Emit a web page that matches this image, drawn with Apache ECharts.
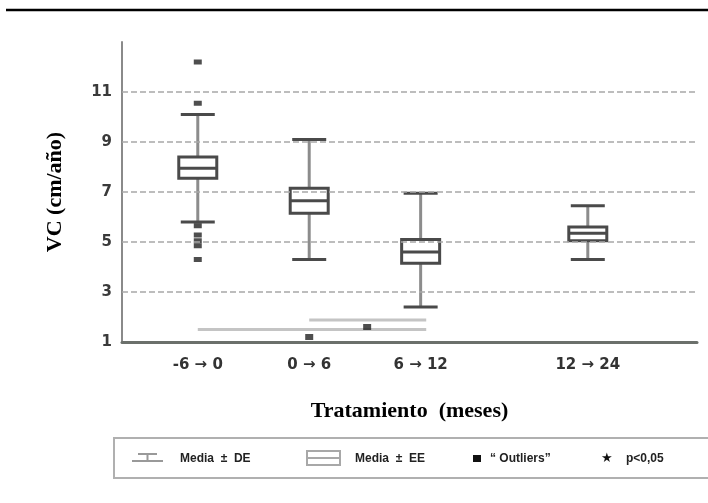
<!DOCTYPE html>
<html><head><meta charset="utf-8">
<script src="https://cdn.jsdelivr.net/npm/echarts@6/dist/echarts.min.js"></script>
<style>html,body{margin:0;padding:0;background:#fff}#c{width:708px;height:503px}</style>
</head><body><div id="c"></div>
<script>
// ---- data ----
const categories = ['-6 \u2192 0', '0 \u2192 6', '6 \u2192 12', '12 \u2192 24'];
const xPositions = [1, 2, 3, 4.5];
const whiskerLow = [5.8, 4.3, 2.4, 4.3];
const q1 = [7.55, 6.15, 4.15, 5.05];
const median = [7.95, 6.65, 4.6, 5.35];
const q3 = [8.4, 7.15, 5.1, 5.6];
const whiskerHigh = [10.1, 9.1, 6.95, 6.45];
const outliers = [[1, 12.2], [1, 10.55], [1, 5.65], [1, 5.28], [1, 5.05], [1, 4.85], [1, 4.3]];
const yTicks = [1, 3, 5, 7, 9, 11];
const gridValues = [3, 5, 7, 9, 11];
const sigLines = [[1, 3.05, 1.5], [2, 3.05, 1.88]];   // [from, to, y]
const sigStars = [[2, 1.2], [2.52, 1.6]];
const legendLabels = ['Media  \u00b1  DE', 'Media  \u00b1  EE', '\u201c Outliers\u201d', 'p<0,05'];

const chart = echarts.init(document.getElementById('c'));
const boxData = xPositions.map((x, i) => [x, whiskerLow[i], q1[i], median[i], q3[i], whiskerHigh[i]]);

const BOX_W = 38, CAP_W = 34;
function renderBox(params, api) {
  const x = api.value(0);
  const pLow = api.coord([x, api.value(1)]);
  const pQ1 = api.coord([x, api.value(2)]);
  const pMed = api.coord([x, api.value(3)]);
  const pQ3 = api.coord([x, api.value(4)]);
  const pHigh = api.coord([x, api.value(5)]);
  const cx = pMed[0];
  const dark = '#4a4a4a', whisk = '#8c8c8c';
  return {
    type: 'group',
    children: [
      { type: 'line', shape: { x1: cx, y1: pHigh[1], x2: cx, y2: pQ3[1] }, style: { stroke: whisk, lineWidth: 3 } },
      { type: 'line', shape: { x1: cx, y1: pQ1[1], x2: cx, y2: pLow[1] }, style: { stroke: whisk, lineWidth: 3 } },
      { type: 'line', shape: { x1: cx - CAP_W / 2, y1: pHigh[1], x2: cx + CAP_W / 2, y2: pHigh[1] }, style: { stroke: dark, lineWidth: 3 } },
      { type: 'line', shape: { x1: cx - CAP_W / 2, y1: pLow[1], x2: cx + CAP_W / 2, y2: pLow[1] }, style: { stroke: dark, lineWidth: 3 } },
      { type: 'rect', shape: { x: cx - BOX_W / 2, y: pQ3[1], width: BOX_W, height: pQ1[1] - pQ3[1] }, style: { fill: '#fff', stroke: dark, lineWidth: 3 } },
      { type: 'line', shape: { x1: cx - BOX_W / 2, y1: pMed[1], x2: cx + BOX_W / 2, y2: pMed[1] }, style: { stroke: dark, lineWidth: 3 } }
    ]
  };
}
function renderSig(params, api) {
  const a = api.coord([api.value(0), api.value(2)]);
  const b = api.coord([api.value(1), api.value(2)]);
  return { type: 'line', shape: { x1: a[0], y1: a[1], x2: b[0], y2: b[1] }, style: { stroke: '#c4c4c4', lineWidth: 3 } };
}

const LY = 459;
const legendFont = 'bold 12px "Liberation Sans", Arial, sans-serif';
const option = {
  animation: false,
  backgroundColor: '#fff',
  grid: { left: 122, right: 11, top: 42, bottom: 161 },
  xAxis: {
    type: 'value', min: 0.32, max: 5.48,
    axisLine: { show: true, lineStyle: { color: '#6b706b', width: 3 } },
    axisTick: { show: false },
    splitLine: { show: false },
    axisLabel: {
      customValues: xPositions,
      formatter: v => { const i = xPositions.indexOf(v); return i >= 0 ? categories[i] : ''; },
      fontFamily: 'DejaVu Sans', fontWeight: 'bold', fontSize: 15, color: '#333', margin: 16
    },
    name: 'Tratamiento  (meses)', nameLocation: 'middle', nameGap: 58,
    nameTextStyle: { fontFamily: 'Liberation Serif', fontWeight: 'bold', fontSize: 22, color: '#000' }
  },
  yAxis: {
    type: 'value', min: 1, max: 13, interval: 2,
    axisLine: { show: true, lineStyle: { color: '#8a8a8a', width: 2 } },
    axisTick: { show: false },
    splitLine: { show: false },
    axisLabel: {
      formatter: v => yTicks.indexOf(v) >= 0 ? String(v) : '',
      fontFamily: 'DejaVu Sans', fontWeight: 'bold', fontSize: 15, color: '#3a3a3a', margin: 10
    },
    name: 'VC (cm/a\u00f1o)', nameLocation: 'middle', nameGap: 56, nameRotate: 90,
    nameTextStyle: { fontFamily: 'Liberation Serif', fontWeight: 'bold', fontSize: 22, color: '#000' }
  },
  series: [
    {
      type: 'custom', name: 'sig', renderItem: renderSig, data: sigLines, z: 1,
      markLine: {
        silent: true, symbol: 'none', label: { show: false },
        lineStyle: { type: [6, 3], color: '#a8a8a8', width: 1.5 },
        data: gridValues.map(v => ({ yAxis: v }))
      }
    },
    { type: 'custom', name: 'box', renderItem: renderBox, data: boxData, z: 3 },
    { type: 'scatter', name: 'outliers', data: outliers, symbol: 'rect', symbolSize: [8, 5], itemStyle: { color: '#222' }, z: 4 },
    { type: 'scatter', name: 'stars', data: sigStars, symbol: 'rect', symbolSize: [8, 6], itemStyle: { color: '#222' }, z: 4 }
  ],
  graphic: [
    { type: 'line', shape: { x1: 6, y1: 10, x2: 708, y2: 10 }, style: { stroke: '#000', lineWidth: 2.5 } },
    { type: 'rect', shape: { x: 114, y: 438, width: 600, height: 40 }, style: { fill: '#fff', stroke: '#b0b0b0', lineWidth: 2 } },
    // whisker icon
    { type: 'line', shape: { x1: 138, y1: 454, x2: 157, y2: 454 }, style: { stroke: '#999', lineWidth: 2 } },
    { type: 'line', shape: { x1: 147.5, y1: 454, x2: 147.5, y2: 461 }, style: { stroke: '#999', lineWidth: 2 } },
    { type: 'line', shape: { x1: 132, y1: 461, x2: 163, y2: 461 }, style: { stroke: '#999', lineWidth: 2 } },
    { type: 'text', x: 180, y: LY, style: { text: legendLabels[0], font: legendFont, fill: '#222', verticalAlign: 'middle' } },
    // box icon
    { type: 'rect', shape: { x: 307, y: 451, width: 33, height: 14 }, style: { fill: '#fff', stroke: '#a8a8a8', lineWidth: 2 } },
    { type: 'line', shape: { x1: 307, y1: 458, x2: 340, y2: 458 }, style: { stroke: '#a8a8a8', lineWidth: 2 } },
    { type: 'text', x: 355, y: LY, style: { text: legendLabels[1], font: legendFont, fill: '#222', verticalAlign: 'middle' } },
    // outlier icon
    { type: 'rect', shape: { x: 473, y: 455, width: 8, height: 7 }, style: { fill: '#111' } },
    { type: 'text', x: 490, y: LY, style: { text: legendLabels[2], font: legendFont, fill: '#222', verticalAlign: 'middle' } },
    // star icon
    { type: 'text', x: 601, y: LY, style: { text: '\u2605', font: 'bold 13px "DejaVu Sans", sans-serif', fill: '#111', verticalAlign: 'middle' } },
    { type: 'text', x: 626, y: LY, style: { text: legendLabels[3], font: legendFont, fill: '#222', verticalAlign: 'middle' } }
  ]
};
chart.setOption(option);
</script>
</body></html>
